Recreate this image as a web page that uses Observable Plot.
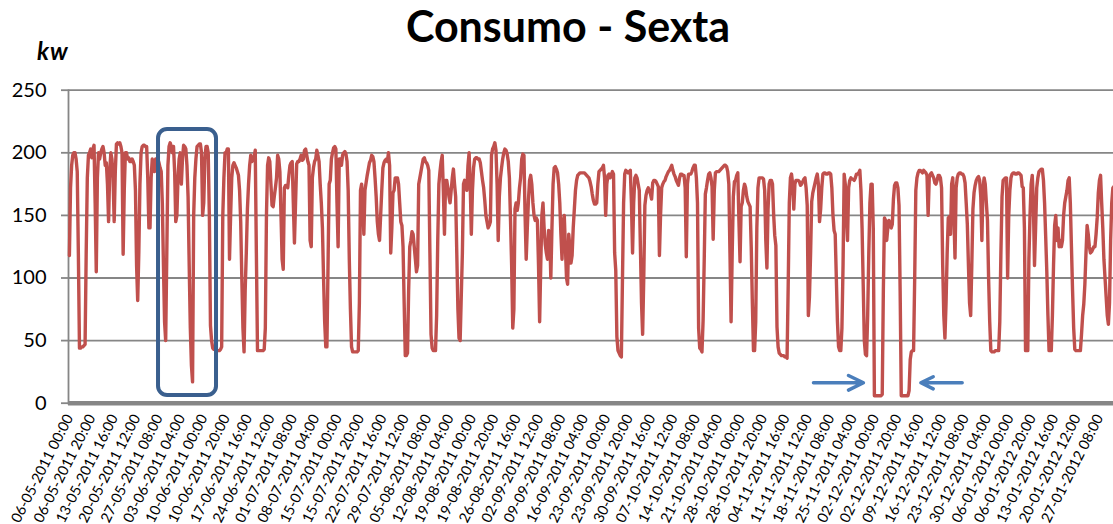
<!DOCTYPE html>
<html>
<head>
<meta charset="utf-8">
<script src="https://cdn.jsdelivr.net/npm/d3@7"></script>
<script src="https://cdn.jsdelivr.net/npm/@observablehq/plot@0.6"></script>
<style>
  html, body { margin: 0; padding: 0; background: #fff; overflow: hidden; }
  #wrap { position: relative; width: 1113px; height: 524px; font-family: Lato, "Liberation Sans", sans-serif; }
  #title { position: absolute; left: 568px; top: 0px; transform: translateX(-50%); font-weight: 700; font-size: 43px; line-height: 1.2; color: #000; white-space: nowrap; }
  #unit { position: absolute; left: 37px; top: 37px; font-weight: 700; font-style: italic; font-size: 24px; line-height: 1.2; letter-spacing: 1px; color: #000; }
  #chart { position: absolute; left: 0; top: 0; }
</style>
</head>
<body>
<div id="wrap">
  <div id="chart"></div>
  <div id="title">Consumo - Sexta</div>
  <div id="unit">kw</div>
</div>
<script>
// Fridays (Sexta) and their 24 hourly values (kw)
const datas = ["06-05-2011","13-05-2011","20-05-2011","27-05-2011","03-06-2011","10-06-2011","17-06-2011","24-06-2011","01-07-2011","08-07-2011","15-07-2011","22-07-2011","29-07-2011","05-08-2011","12-08-2011","19-08-2011","26-08-2011","02-09-2011","09-09-2011","16-09-2011","23-09-2011","30-09-2011","07-10-2011","14-10-2011","21-10-2011","28-10-2011","04-11-2011","11-11-2011","18-11-2011","25-11-2011","02-12-2011","09-12-2011","16-12-2011","23-12-2011","30-12-2011","06-01-2012","13-01-2012","20-01-2012","27-01-2012"];

const s20110506 = [118,172,190,198,200,200,195,185,120,44,44,45,45,46,47,120,180,198,200,203,196,203,206,160];
const s20110513 = [105,180,200,195,200,203,205,200,190,192,175,145,185,200,195,180,145,185,207,208,207,208,205,200];
const s20110520 = [119,170,200,200,195,196,193,193,195,193,190,170,110,82,120,175,200,205,206,206,205,205,180,140];
const s20110527 = [140,180,195,190,185,195,190,195,192,188,185,160,110,65,50,120,190,205,208,205,200,205,185,145];
const s20110603 = [150,180,195,200,175,195,206,205,203,190,165,110,60,30,17,150,180,195,205,206,207,207,200,150];
const s20110610 = [160,195,205,205,200,150,62,50,44,43,43,43,42,42,42,43,45,150,180,200,200,203,203,115];
const s20110617 = [150,180,190,192,190,188,185,182,170,145,100,60,41,90,120,155,175,190,198,193,195,197,202,120];
const s20110624 = [42,42,42,42,42,42,43,60,150,190,196,193,175,158,157,165,172,180,198,195,185,150,115,107];
const s20110701 = [172,174,174,172,182,190,192,193,160,128,160,191,193,193,195,198,194,195,202,203,198,193,190,130];
const s20110708 = [125,180,188,193,195,202,198,193,175,160,140,100,65,45,45,110,175,178,195,200,204,205,203,160];
const s20110715 = [125,195,195,190,198,200,201,199,193,170,115,75,45,41,41,41,41,41,42,80,170,175,160,135];
const s20110722 = [170,176,182,187,192,194,198,197,193,180,165,145,135,130,150,170,188,192,194,195,193,200,190,120];
const s20110729 = [140,168,170,180,180,180,175,160,145,142,125,80,38,38,40,90,125,130,137,135,125,115,105,110];
const s20110805 = [175,180,185,190,195,196,193,192,190,186,120,55,44,42,42,42,70,130,175,185,193,198,170,135];
const s20110812 = [178,178,172,165,160,170,180,187,175,165,120,75,52,50,85,120,175,178,175,170,190,200,175,135];
const s20110819 = [170,188,195,196,196,195,195,192,185,178,172,162,150,145,140,142,145,198,203,205,208,202,175,130];
const s20110826 = [165,180,188,195,200,203,202,199,193,180,146,110,60,75,155,160,154,160,172,180,195,199,198,150];
const s20110902 = [115,140,162,178,182,175,160,150,146,148,146,110,65,110,150,160,140,127,120,115,138,135,100,140];
const s20110909 = [175,188,189,187,184,175,160,135,115,145,150,125,100,95,135,125,112,118,140,155,170,178,182,183];
const s20110916 = [184,184,184,184,184,183,182,181,180,177,173,167,162,159,159,160,175,185,186,187,188,190,180,150];
const s20110923 = [175,182,183,180,182,185,183,120,106,53,42,40,38,37,100,160,183,186,185,184,185,186,160,120];
const s20110930 = [160,180,182,180,175,170,125,80,55,100,158,166,170,172,170,167,163,176,178,178,177,175,173,118];
const s20111007 = [150,172,175,177,178,181,183,185,186,188,190,186,183,181,178,176,174,180,183,183,182,182,172,117];
const s20111014 = [175,183,183,183,185,188,190,190,180,160,60,44,43,41,66,114,167,172,178,183,184,180,173,131];
const s20111021 = [170,184,185,185,185,186,187,188,189,190,190,189,185,175,120,65,120,165,177,178,182,184,146,113];
const s20111028 = [157,160,170,175,172,165,161,159,157,125,80,42,42,65,140,172,180,180,180,180,179,170,130,108];
const s20111104 = [155,175,178,178,175,151,134,126,61,45,40,39,38,38,38,37,37,36,93,160,180,183,175,155];
const s20111111 = [175,178,178,178,177,174,175,177,179,180,172,158,70,85,119,161,168,172,176,180,183,175,145,155];
const s20111118 = [172,183,184,184,183,183,184,184,183,172,150,138,135,100,65,45,42,42,60,110,183,175,150,130];
const s20111125 = [172,178,180,179,179,178,180,183,183,184,186,170,140,95,50,39,38,70,120,160,175,175,140,6];
const s20111202 = [6,6,6,6,6,6,7,90,148,146,130,140,146,142,140,143,163,174,176,176,172,158,90,6];
const s20111209 = [6,6,6,6,6,6,10,35,41,42,42,100,170,180,184,186,186,185,184,186,185,184,182,150];
const s20111216 = [180,183,184,182,180,176,175,178,182,182,180,172,110,70,52,80,120,148,149,135,175,180,150,116];
const s20111223 = [172,180,183,184,184,183,183,181,176,160,143,110,80,70,110,155,168,174,178,180,181,178,165,130];
const s20111230 = [172,180,175,160,146,100,65,42,41,41,41,42,42,42,42,65,120,165,178,179,180,180,100,150];
const s20120106 = [170,180,183,184,184,183,183,184,184,183,182,173,172,140,42,42,42,115,150,175,182,160,110,140];
const s20120113 = [172,180,185,186,187,187,178,160,133,105,70,42,42,42,70,110,142,150,130,140,125,130,125,130];
const s20120120 = [150,160,165,170,178,180,160,125,90,60,43,42,42,42,42,42,55,70,79,95,120,142,135,125];
const s20120127 = [120,121,123,125,125,135,148,168,178,182,160,140,115,100,85,70,63,80,130,160,172,173,175,175];

const sextas = [s20110506,s20110513,s20110520,s20110527,s20110603,s20110610,s20110617,s20110624,s20110701,s20110708,s20110715,s20110722,s20110729,s20110805,s20110812,s20110819,s20110826,s20110902,s20110909,s20110916,s20110923,s20110930,s20111007,s20111014,s20111021,s20111028,s20111104,s20111111,s20111118,s20111125,s20111202,s20111209,s20111216,s20111223,s20111230,s20120106,s20120113,s20120120,s20120127];

// category tick labels (every 20th hourly point)
const rotulosX = ["06-05-2011 00:00","06-05-2011 20:00","13-05-2011 16:00","20-05-2011 12:00","27-05-2011 08:00","03-06-2011 04:00","10-06-2011 00:00","10-06-2011 20:00","17-06-2011 16:00","24-06-2011 12:00","01-07-2011 08:00","08-07-2011 04:00","15-07-2011 00:00","15-07-2011 20:00","22-07-2011 16:00","29-07-2011 12:00","05-08-2011 08:00","12-08-2011 04:00","19-08-2011 00:00","19-08-2011 20:00","26-08-2011 16:00","02-09-2011 12:00","09-09-2011 08:00","16-09-2011 04:00","23-09-2011 00:00","23-09-2011 20:00","30-09-2011 16:00","07-10-2011 12:00","14-10-2011 08:00","21-10-2011 04:00","28-10-2011 00:00","28-10-2011 20:00","04-11-2011 16:00","11-11-2011 12:00","18-11-2011 08:00","25-11-2011 04:00","02-12-2011 00:00","02-12-2011 20:00","09-12-2011 16:00","16-12-2011 12:00","23-12-2011 08:00","30-12-2011 04:00","06-01-2012 00:00","06-01-2012 20:00","13-01-2012 16:00","20-01-2012 12:00","27-01-2012 08:00"];
const passoRotulo = 20;
const ticksY = [0, 50, 100, 150, 200, 250];

// annotations (hour index / kw)
const destaque = [{x1: 79.6, x2: 131.4, y1: 6.2, y2: 218.6}];
const setas = [
  {x1: 664.6, x2: 709.2, y: 16.3},
  {x1: 797.4, x2: 760.5, y: 16.3}
];

const serie = sextas.flatMap((dia, k) => dia.map((v, h) => ({i: k * 24 + h, kw: v, data: datas[k]})));
const nPontos = serie.length;
const ticksX = rotulosX.map((_, j) => j * passoRotulo);

const passoPx = 1.1196;
const x0 = 68.9;

const plot = Plot.plot({
  width: 1113,
  height: 524,
  marginLeft: 68,
  marginRight: 0,
  marginTop: 90,
  marginBottom: 121,
  style: {fontFamily: "Lato, 'Liberation Sans', sans-serif", background: "transparent", overflow: "hidden"},
  x: {type: "linear", domain: [0, nPontos - 1], range: [x0, x0 + (nPontos - 1) * passoPx]},
  y: {domain: [0, 250], range: [402.7, 89.7]},
  marks: [
    Plot.ruleY(ticksY.filter(d => d > 0), {stroke: "#868686", strokeWidth: 1.8}),
    Plot.axisY({ticks: ticksY, tickSize: 7, tickPadding: 15, fontSize: 20, stroke: "#868686", strokeWidth: 1.8, fill: "#000", label: null}),
    Plot.frame({anchor: "left", stroke: "#868686", strokeWidth: 1.8}),
    Plot.line(serie, {x: "i", y: "kw", stroke: "#C0504D", strokeWidth: 3.4, strokeLinejoin: "round"}),
    Plot.ruleY([0], {stroke: "#868686", strokeWidth: 4.5}),
    Plot.axisX({ticks: ticksX, tickFormat: d => rotulosX[d / passoRotulo], tickSize: 0, tickPadding: 12, tickRotate: -63, fontSize: 14.5, fill: "#000", label: null}),
    Plot.rect(destaque, {x1: "x1", x2: "x2", y1: "y1", y2: "y2", fill: "none", stroke: "#3A5F8E", strokeWidth: 4, rx: 9}),
    Plot.arrow(setas, {x1: "x1", x2: "x2", y1: "y", y2: "y", stroke: "#4A7EBB", strokeWidth: 3.5, headLength: 24, headAngle: 52})
  ]
});
document.getElementById("chart").appendChild(plot);
</script>
</body>
</html>
